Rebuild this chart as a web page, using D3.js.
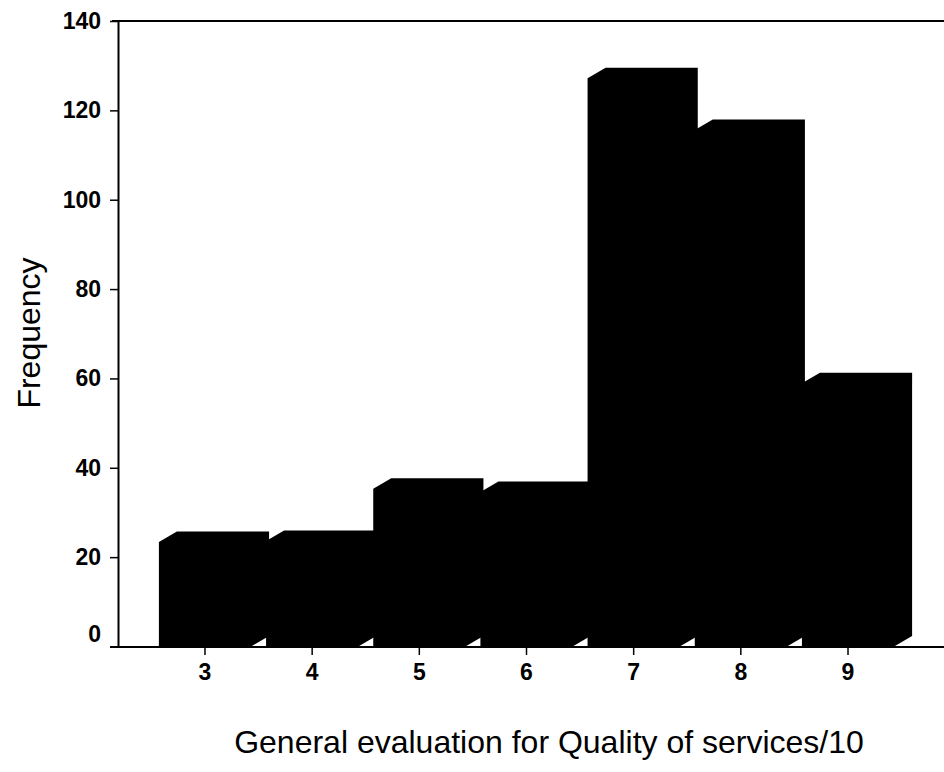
<!DOCTYPE html>
<html>
<head>
<meta charset="utf-8">
<script src="https://cdn.jsdelivr.net/npm/d3@7/dist/d3.min.js"></script>
<style>
  body { margin: 0; background: #fff; }
  svg { display: block; }
</style>
</head>
<body>
<div id="chart"></div>
<script>
// --- data ---
const categories = ["3", "4", "5", "6", "7", "8", "9"];
const frequencies = [23.4, 23.6, 35.3, 34.6, 127.2, 115.6, 58.9];
const yTicks = [0, 20, 40, 60, 80, 100, 120, 140];

const W = 944, H = 772;
const font = "'Liberation Sans', Arial, sans-serif";

// plot frame
const plotLeft = 118, plotTop = 21, plotBottom = 646.5;

const svg = d3.select("#chart")
    .append("svg")
    .attr("width", W)
    .attr("height", H);

// scales
const x = d3.scaleBand()
    .domain(categories)
    .range([151.4, 901.6])
    .padding(0);

const y = d3.scaleLinear()
    .domain([0, 140])
    .range([plotBottom, plotTop]);

// 3D-effect bars: front face + offset depth, all black
const depthX = 18, depthY = 10.5;
const faceW = x.bandwidth() * 0.86;

function barPath(cat, v) {
    const c = x(cat) + x.bandwidth() / 2;
    const xl = c - faceW / 2, xr = c + faceW / 2;
    const yf = y(v), y0 = y(0);
    return `M${xl},${y0}L${xl},${yf}L${xl + depthX},${yf - depthY}` +
        `L${xr + depthX},${yf - depthY}L${xr + depthX},${y0 - depthY}L${xr},${y0}Z`;
}

svg.append("g")
    .selectAll("path")
    .data(categories)
    .enter()
    .append("path")
    .attr("d", (d, i) => barPath(d, frequencies[i]))
    .attr("fill", "#000");

// frame lines
svg.append("line")   // top line
    .attr("x1", 112).attr("x2", W + 10)
    .attr("y1", plotTop).attr("y2", plotTop)
    .attr("stroke", "#000").attr("stroke-width", 2);

svg.append("line")   // x axis line
    .attr("x1", 110).attr("x2", W + 10)
    .attr("y1", plotBottom + 0.5).attr("y2", plotBottom + 0.5)
    .attr("stroke", "#000").attr("stroke-width", 2);

// y axis
const yAxis = svg.append("g")
    .attr("transform", `translate(${plotLeft},0)`)
    .call(d3.axisLeft(y).tickValues(yTicks).tickSize(8).tickPadding(9).tickSizeOuter(0));

yAxis.select(".domain").attr("stroke-width", 2);
yAxis.selectAll(".tick line").attr("stroke-width", 1.5);
yAxis.selectAll(".tick text")
    .style("font-family", font)
    .style("font-size", "23px")
    .style("font-weight", "bold")
    .attr("fill", "#000");
// the 0 label sits a little above its tick
yAxis.selectAll(".tick text").filter(d => d === 0).attr("dy", "-0.2em");

// x axis
const xAxis = svg.append("g")
    .attr("transform", `translate(0,${plotBottom + 0.5})`)
    .call(d3.axisBottom(x).tickSize(8).tickPadding(9).tickSizeOuter(0));

xAxis.select(".domain").remove();
xAxis.selectAll(".tick line").attr("stroke-width", 1.5);
xAxis.selectAll(".tick text")
    .style("font-family", font)
    .style("font-size", "23px")
    .style("font-weight", "bold")
    .attr("fill", "#000");

// axis titles
svg.append("text")
    .attr("x", 549)
    .attr("y", 753)
    .attr("text-anchor", "middle")
    .style("font-family", font)
    .style("font-size", "32px")
    .text("General evaluation for Quality of services/10");

svg.append("text")
    .attr("transform", "translate(40,333) rotate(-90)")
    .attr("text-anchor", "middle")
    .style("font-family", font)
    .style("font-size", "32px")
    .text("Frequency");
</script>
</body>
</html>
